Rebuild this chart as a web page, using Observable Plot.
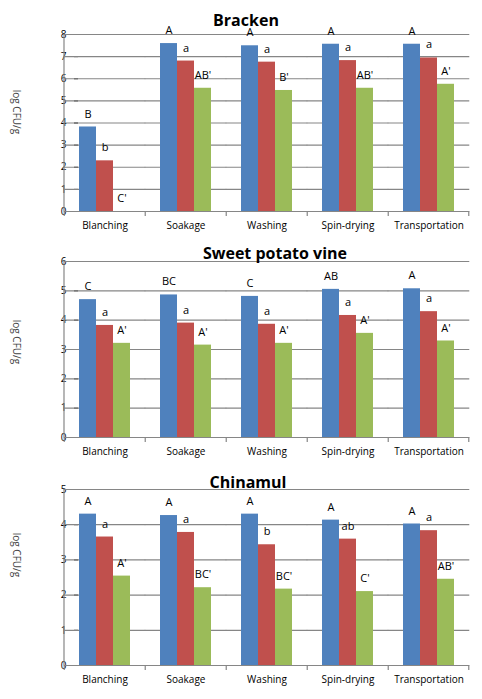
<!DOCTYPE html>
<html><head><meta charset="utf-8">
<script src="https://cdn.jsdelivr.net/npm/d3@7"></script>
<script src="https://cdn.jsdelivr.net/npm/@observablehq/plot@0.6"></script>
<style>
body{margin:0;background:#fff;}
#chart{width:482px;}
#chart svg{display:block;overflow:visible;}
</style>
</head><body><div id="chart"></div>
<script>
const stages = ["Blanching","Soakage","Washing","Spin-drying","Transportation"];
const seriesNames = ["Series 1","Series 2","Series 3"];
const seriesColors = ["#4F81BD","#C0504D","#9BBB59"];
const yLabel = "log CFU/g";

const brackenTitle = "Bracken";
const brackenYTicks = [0,1,2,3,4,5,6,7,8];
const brackenS1 = [3.82,7.59,7.49,7.56,7.56];
const brackenS2 = [2.29,6.80,6.75,6.82,6.94];
const brackenS3 = [0,5.57,5.47,5.57,5.75];
const brackenL1 = ["B","A","A","A","A"];
const brackenL2 = ["b","a","a","a","a"];
const brackenL3 = ["C'","AB'","B'","AB'","A'"];

const sweetTitle = "Sweet potato vine";
const sweetYTicks = [0,1,2,3,4,5,6];
const sweetS1 = [4.70,4.86,4.81,5.05,5.07];
const sweetS2 = [3.82,3.90,3.86,4.16,4.29];
const sweetS3 = [3.21,3.15,3.21,3.55,3.29];
const sweetL1 = ["C","BC","C","AB","A"];
const sweetL2 = ["a","a","a","a","a"];
const sweetL3 = ["A'","A'","A'","A'","A'"];

const chinaTitle = "Chinamul";
const chinaYTicks = [0,1,2,3,4,5];
const chinaS1 = [4.30,4.26,4.30,4.13,4.02];
const chinaS2 = [3.65,3.78,3.43,3.59,3.83];
const chinaS3 = [2.54,2.21,2.17,2.10,2.45];
const chinaL1 = ["A","A","A","A","A"];
const chinaL2 = ["a","a","b","ab","a"];
const chinaL3 = ["A'","BC'","BC'","C'","AB'"];

const FONT = "'Open Sans', 'DejaVu Sans', sans-serif";
const GRID = "#868686";
const W = 482, ML = 64, MR = 13, PAD_IN = 0.34, PAD_OUT = 0.17;

function panel(cfg) {
  const rows = [];
  stages.forEach((st, i) => cfg.vals.forEach((v, j) => rows.push({stage: st, series: seriesNames[j], value: v[i], label: cfg.labels[j][i]})));
  const ticks = cfg.ticks;
  const yMax = d3.max(ticks);
  const step = (W - ML - MR) / (stages.length - PAD_IN + 2 * PAD_OUT);
  const gap = step * PAD_IN / 2;
  const plot = Plot.plot({
    width: W, height: cfg.height,
    marginTop: cfg.marginTop, marginBottom: cfg.marginBottom, marginLeft: ML, marginRight: MR,
    style: {fontFamily: FONT, fontSize: "10px", color: "#000", background: "transparent"},
    fx: {domain: stages, paddingInner: PAD_IN, paddingOuter: PAD_OUT, label: null, axis: "bottom", tickSize: 0, tickPadding: 10},
    x: {domain: seriesNames, padding: 0, axis: null},
    y: {domain: [0, yMax], ticks: ticks, tickSize: 4, tickPadding: 8, label: null, tickFormat: d3.format("d")},
    color: {domain: seriesNames, range: seriesColors},
    marks: [
      Plot.ruleY(ticks, {y: d => d, stroke: GRID, strokeWidth: 1.2, insetLeft: -gap - 0.5, insetRight: -gap - 0.5}),
      Plot.barY(rows, {fx: "stage", x: "series", y: "value", fill: "series"}),
      Plot.text(rows, {fx: "stage", x: "series", y: "value", text: "label", dy: -13, fontSize: 11, fill: "#000"})
    ]
  });
  const fx = plot.scale("fx");
  const y = plot.scale("y");
  const y0 = y.apply(0), yTop = y.apply(yMax);
  const svg = d3.select(plot);
  const g = svg.append("g").attr("stroke", GRID).attr("stroke-width", 1.2);
  g.append("line").attr("x1", ML).attr("x2", ML).attr("y1", yTop).attr("y2", y0);
  const bounds = stages.map(s => fx.apply(s) - gap).concat([fx.apply(stages[stages.length - 1]) + fx.bandwidth + gap]);
  bounds.forEach(b => g.append("line").attr("x1", b).attr("x2", b).attr("y1", y0).attr("y2", y0 + 5));
  svg.append("text").attr("x", cfg.titleX).attr("y", cfg.titleY).attr("text-anchor", "middle").attr("dominant-baseline", "central")
    .attr("font-family", FONT).attr("font-weight", "bold").attr("font-size", 16).attr("fill", "#000").text(cfg.title);
  svg.append("text").attr("transform", `translate(17,${cfg.yLabelY}) rotate(90)`).attr("text-anchor", "middle").attr("dominant-baseline", "central")
    .attr("font-family", FONT).attr("font-size", 10).attr("fill", "#444").text(yLabel);
  document.getElementById("chart").appendChild(plot);
}

panel({title: brackenTitle, ticks: brackenYTicks, vals: [brackenS1, brackenS2, brackenS3], labels: [brackenL1, brackenL2, brackenL3],
  height: 238, marginTop: 34, marginBottom: 27, titleX: 246, titleY: 20, yLabelY: 112});
panel({title: sweetTitle, ticks: sweetYTicks, vals: [sweetS1, sweetS2, sweetS3], labels: [sweetL1, sweetL2, sweetL3],
  height: 228, marginTop: 23, marginBottom: 29, titleX: 275, titleY: 15, yLabelY: 104});
panel({title: chinaTitle, ticks: chinaYTicks, vals: [chinaS1, chinaS2, chinaS3], labels: [chinaL1, chinaL2, chinaL3],
  height: 233, marginTop: 23, marginBottom: 34, titleX: 248, titleY: 16, yLabelY: 89});
</script>
</body></html>
